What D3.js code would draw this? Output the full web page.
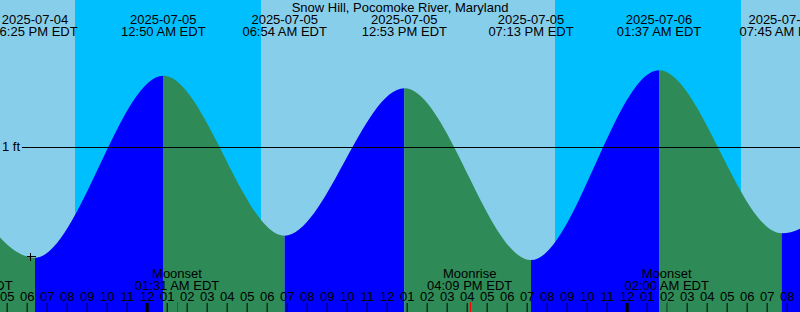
<!DOCTYPE html>
<html>
<head>
<meta charset="utf-8">
<script src="https://cdn.jsdelivr.net/npm/d3@7"></script>
<style>
  body { margin: 0; background: #fff; }
  svg { display: block; font-family: "Liberation Sans", Arial, sans-serif; font-size: 13px; }
</style>
</head>
<body>
<div id="chart"></div>
<script>
const title = 'Snow Hill, Pocomoke River, Maryland';

// tide extremes (local EDT, ft)
const tideTimes = ['2025-07-04 12:20', '2025-07-04 18:25', '2025-07-05 00:50', '2025-07-05 06:54',
  '2025-07-05 12:53', '2025-07-05 19:13', '2025-07-06 01:37', '2025-07-06 07:45', '2025-07-06 14:00'];
const tideHeights = [1.38, 0.385, 1.396, 0.507, 1.326, 0.372, 1.426, 0.521, 1.35];

// night (sunset -> sunrise)
const nightStart = ['2025-07-04 20:26', '2025-07-05 20:26'];
const nightEnd = ['2025-07-05 05:43', '2025-07-06 05:44'];

// moon events
const moonNames = ['Moonrise', 'Moonset', 'Moonrise', 'Moonset'];
const moonTimes = ['2025-07-04 15:10', '2025-07-05 01:31', '2025-07-05 16:09', '2025-07-06 02:00'];

// "+" marker
const markTime = '2025-07-04 18:12';
const markHeight = 0.39;

const timeDomain = ['2025-07-04 16:40', '2025-07-06 08:40'];
const depthDomain = [0, 2];

const W = 800, H = 312;
const C = { day: '#87ceeb', night: '#00bfff', rise: '#0000ff', fall: '#2e8b57', ink: '#000', moon: '#ff0000' };

const parse = d3.utcParse('%Y-%m-%d %H:%M');
const fmtDate = d3.utcFormat('%Y-%m-%d');
const fmtTime = d3.utcFormat('%I:%M %p EDT');

const x = d3.scaleUtc().domain(timeDomain.map(parse)).range([0, W]);
const y = d3.scaleLinear().domain(depthDomain).range([327, -33]);

const tides = tideTimes.map((t, i) => ({ t: parse(t), h: tideHeights[i] }));

const svg = d3.select('#chart').append('svg').attr('width', W).attr('height', H);
const defs = svg.append('defs');

// sky
svg.append('rect').attr('width', W).attr('height', H).attr('fill', C.day);
svg.selectAll('rect.night').data(nightStart).join('rect').attr('class', 'night')
  .attr('x', d => x(parse(d)))
  .attr('width', (d, i) => x(parse(nightEnd[i])) - x(parse(d)))
  .attr('y', 0).attr('height', H).attr('fill', C.night)
  .attr('shape-rendering', 'crispEdges');

// water, coloured by rising / falling segments
const area = d3.area().x(d => x(d.t)).y0(H).y1(d => y(d.h)).curve(d3.curveMonotoneX);
const areaPath = area(tides);
tides.slice(0, -1).forEach((d, i) => {
  const next = tides[i + 1];
  const id = 'seg' + i;
  defs.append('clipPath').attr('id', id).append('rect')
    .attr('x', x(d.t)).attr('width', x(next.t) - x(d.t)).attr('y', 0).attr('height', H);
  svg.append('path').attr('d', areaPath).attr('clip-path', `url(#${id})`)
    .attr('fill', next.h > d.h ? C.rise : C.fall);
});

// depth lines
const [dLo, dHi] = [y.invert(H), y.invert(0)];
d3.range(Math.ceil(dLo), Math.floor(dHi) + 1).forEach(ft => {
  svg.append('line').attr('x1', 22).attr('x2', W).attr('y1', y(ft)).attr('y2', y(ft))
    .attr('stroke', C.ink).attr('shape-rendering', 'crispEdges');
  svg.append('text').attr('x', 2).attr('y', y(ft) + 4).text(ft + ' ft');
});

// marker
const mx = x(parse(markTime)), my = y(markHeight);
svg.append('path').attr('d', `M${mx - 4},${my}H${mx + 5}M${mx},${my - 4}V${my + 4}`)
  .attr('stroke', C.ink).attr('shape-rendering', 'crispEdges');

// title and tide labels
svg.append('text').attr('x', W / 2).attr('y', 11.5).attr('text-anchor', 'middle').text(title);
const tl = svg.selectAll('g.tl').data(tides).join('g').attr('class', 'tl')
  .attr('transform', d => `translate(${x(d.t)},0)`).attr('text-anchor', 'middle');
tl.append('text').attr('y', 24).text(d => fmtDate(d.t));
tl.append('text').attr('y', 36).text(d => fmtTime(d.t));

// moon labels
const ml = svg.selectAll('g.ml').data(moonTimes).join('g').attr('class', 'ml')
  .attr('transform', d => `translate(${x(parse(d))},0)`).attr('text-anchor', 'middle');
ml.append('text').attr('y', 278).text((d, i) => moonNames[i]);
ml.append('text').attr('y', 290).text(d => fmtTime(parse(d)));

// hour axis
const ax = svg.append('g').attr('transform', `translate(0,${H})`)
  .call(d3.axisTop(x).ticks(d3.utcHour.every(1)).tickFormat(d3.utcFormat('%I')).tickSize(9).tickPadding(2));
ax.select('.domain').remove();
ax.attr('font-size', null).attr('font-family', null);
ax.selectAll('text').attr('fill', C.ink);
ax.selectAll('.tick line').attr('stroke', C.ink)
  .attr('stroke-width', d => d.getUTCHours() === 0 ? 3 : 1);

// moon ticks
svg.selectAll('line.mt').data(moonTimes).join('line').attr('class', 'mt')
  .attr('x1', d => Math.round(x(parse(d))) + 0.5).attr('x2', d => Math.round(x(parse(d))) + 0.5)
  .attr('y1', 302).attr('y2', H).attr('stroke', C.moon);
</script>
</body>
</html>
